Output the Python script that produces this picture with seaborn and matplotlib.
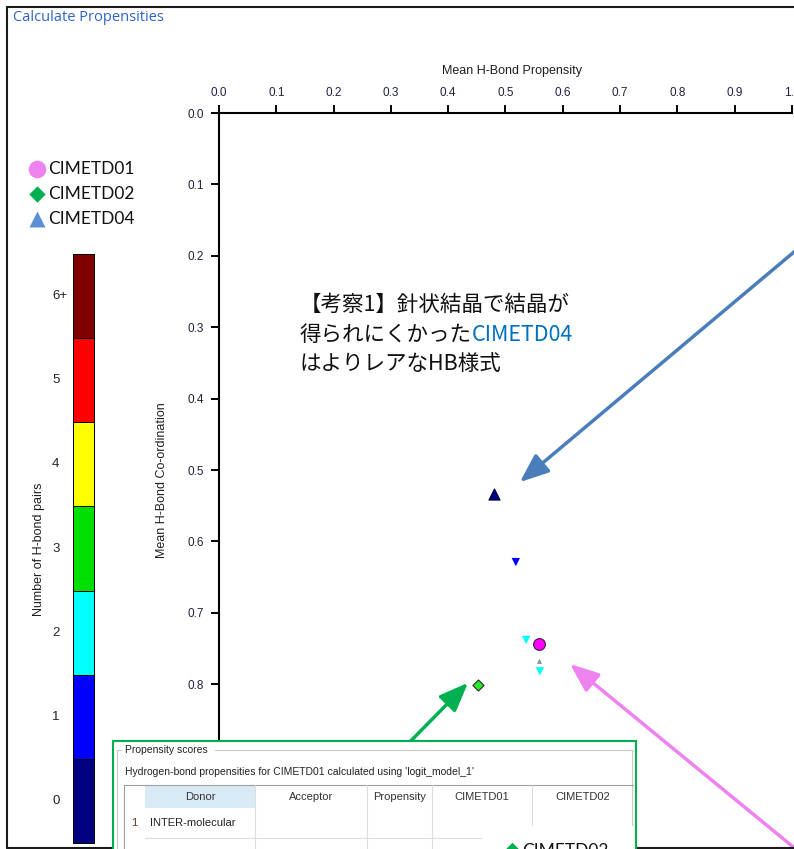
import numpy as np
import pandas as pd
import matplotlib
matplotlib.use("Agg")
import matplotlib.pyplot as plt
import seaborn as sns
from matplotlib.colors import ListedColormap
from matplotlib.patches import Rectangle

W, H = 794, 849

# number of H-bond pairs colour scale
pair_levels = [0, 1, 2, 3, 4, 5, 6]
pair_labels = ["0", "1", "2", "3", "4", "5", "6+"]
pair_colors = ["#000080", "#0000ff", "#00ffff", "#00e000", "#ffff00", "#ff0000", "#800000"]

# other possible H-bond arrangements (mean propensity / mean co-ordination)
other_propensity = [0.518, 0.536, 0.560]
other_coordination = [0.629, 0.738, 0.782]
other_pairs = [1, 2, 2]
small_propensity = [0.558]
small_coordination = [0.767]

# observed structures
structures = ["CIMETD01", "CIMETD02", "CIMETD04"]
struct_propensity = [0.558, 0.452, 0.480]
struct_coordination = [0.744, 0.801, 0.534]
struct_colors = ["#ff00ff", "#22ee22", "#000080"]
struct_markers = ["o", "D", "^"]
struct_sizes = [72, 32, 64]
legend_colors = ["#ee82ee", "#00b050", "#5b8fd6"]

x_ticks = [0.0, 0.1, 0.2, 0.3, 0.4, 0.5, 0.6, 0.7, 0.8, 0.9, 1.0]
# ticks further down sit under the inset panel
y_ticks = [0.0, 0.1, 0.2, 0.3, 0.4, 0.5, 0.6, 0.7, 0.8]

table_columns = ["", "Donor", "Acceptor", "Propensity", "CIMETD01", "CIMETD02"]
table_edges = [124, 145, 255, 367, 432, 532, 633]
row_labels = ["1"]
row_donors = ["INTER-molecular"]

note_lines = ["【考察1】針状結晶で結晶が", "得られにくかった", "はよりレアなHB様式"]
note_highlight = "CIMETD04"

sns.set_style("white")
plt.rcParams["font.family"] = ["Liberation Sans", "Noto Sans CJK JP", "DejaVu Sans"]
JP = ["Noto Sans CJK JP", "DejaVu Sans"]


def box(l, t, r, b):
    return [l / W, 1 - b / H, (r - l) / W, (b - t) / H]


fig = plt.figure(figsize=(W / 100, H / 100), dpi=100)

# main plot
ax = fig.add_axes(box(219, 113, 792, 849))
others = pd.DataFrame({"propensity": other_propensity,
                       "coordination": other_coordination,
                       "pairs": other_pairs})
sns.scatterplot(data=others, x="propensity", y="coordination", hue="pairs",
                palette={p: pair_colors[p] for p in set(other_pairs)},
                marker="v", s=36, linewidth=0, legend=False, ax=ax, zorder=3)
sns.scatterplot(x=small_propensity, y=small_coordination, marker="^", s=7,
                color="#e8a060", edgecolor="#5070b0", linewidth=0.5, ax=ax, zorder=3)
for name, px, py, c, m, s in zip(structures, struct_propensity, struct_coordination,
                                 struct_colors, struct_markers, struct_sizes):
    sns.scatterplot(x=[px], y=[py], marker=m, s=s, color=c,
                    edgecolor="#3a2040" if m != "^" else "#000040",
                    linewidth=0.8, ax=ax, zorder=4)

ax.set_xlim(0, 1.0)
ax.set_ylim(736 / 714, 0)
ax.xaxis.tick_top()
ax.set_xticks(x_ticks)
ax.set_xticklabels([f"{v:.1f}" for v in x_ticks])
ax.set_yticks(y_ticks)
ax.set_yticklabels([f"{v:.1f}" for v in y_ticks])
ax.tick_params(axis="x", top=True, bottom=False, length=5.8, width=1.4,
               pad=4, labelsize=8.5, labelcolor="#202040", color="black")
ax.tick_params(axis="y", left=True, length=5.8, width=1.4,
               pad=5, labelsize=8.5, labelcolor="#202040", color="black")
for side in ["right", "bottom"]:
    ax.spines[side].set_visible(False)
for side in ["top", "left"]:
    ax.spines[side].set_color("black")
    ax.spines[side].set_linewidth(1.5)
ax.set_xlabel("")
ax.set_ylabel("")

# arrows pointing at the structures
arrow_kw = dict(arrowstyle="-|>,head_length=0.8,head_width=0.32", lw=2.5,
                shrinkA=0, shrinkB=0, mutation_scale=22)
ax.annotate("", xy=(0.525, 0.517), xytext=(1.049, 0.164),
            arrowprops=dict(color="#4a7ebb", **arrow_kw), annotation_clip=False)
ax.annotate("", xy=(0.4346, 0.798), xytext=(0.323, 0.889),
            arrowprops=dict(color="#00b050", **arrow_kw), annotation_clip=False)
ax.annotate("", xy=(0.6126, 0.7717), xytext=(1.066, 1.070),
            arrowprops=dict(color="#ee82ee", **arrow_kw), annotation_clip=False)

# colour bar as a one-column heatmap
ax_cb = fig.add_axes(box(73, 254, 94, 843))
cb_data = pd.DataFrame({"pairs": pair_levels[::-1]}, index=pair_labels[::-1])
sns.heatmap(cb_data, cmap=ListedColormap(pair_colors), vmin=-0.5, vmax=6.5,
            cbar=False, linewidths=0.5, linecolor="black",
            xticklabels=False, yticklabels=True, ax=ax_cb)
ax_cb.set_ylabel("")
ax_cb.tick_params(axis="y", left=False, length=0, pad=15, labelsize=9.5,
                  labelcolor="#222222")
for lab in ax_cb.get_yticklabels():
    lab.set_rotation(0)
    lab.set_ha("left")
for sp in ax_cb.spines.values():
    sp.set_visible(True)
    sp.set_color("black")
    sp.set_linewidth(0.7)

# overlay in pixel coordinates for frame, labels, legend and inset panel
ov = fig.add_axes([0, 0, 1, 1], zorder=5)
ov.set_xlim(0, W)
ov.set_ylim(H, 0)
ov.axis("off")

ov.plot([7, 7], [7, 848], color="#1a1a1a", lw=1.5)
ov.plot([7, W + 5], [7, 7], color="#1a1a1a", lw=1.5)
ov.plot([7, W + 5], [848, 848], color="#1a1a1a", lw=1.5)

ov.text(13, 17, "Calculate Propensities", color="#2f62c9", fontsize=10.5,
        family="Open Sans", va="center", ha="left")
ov.text(512, 71, "Mean H-Bond Propensity", fontsize=9, color="#202020",
        ha="center", va="center")
ov.text(162, 480, "Mean H-Bond Co-ordination", fontsize=9, color="#202020",
        ha="center", va="center", rotation=90)
ov.text(39, 549, "Number of H-bond pairs", fontsize=9, color="#202020",
        ha="center", va="center", rotation=90)

# legend
for i, (name, c, m) in enumerate(zip(structures, legend_colors, struct_markers)):
    y = 169 + i * 25
    ov.scatter([37], [y], marker=m, s={"o": 160, "D": 70, "^": 132}[m],
               color=c, linewidths=0, zorder=6)
    ov.text(48, y, name, fontsize=12.5, family="Lato", color="#111111",
            va="center", ha="left")

# Japanese note
base = [311, 341, 370]
for line, yb in zip(note_lines, base):
    t = ov.text(300, yb, line, fontsize=15.5, family=JP, color="#111111",
                va="baseline", ha="left")
    if line == note_lines[1]:
        note_mid = t
fig.canvas.draw()
ext = note_mid.get_window_extent(renderer=fig.canvas.get_renderer())
x_end = ov.transData.inverted().transform((ext.x1, ext.y0))[0]
ov.text(x_end, base[1], note_highlight, fontsize=15.5, family=JP,
        color="#0070c0", va="baseline", ha="left")

# inset panel (propensity scores table)
ov.add_patch(Rectangle((113, 741), 523, 130, facecolor="white",
                       edgecolor="#00b050", lw=1.5, zorder=7))
grid = "#c8c8c8"
ov.plot([117, 121], [750, 750], color=grid, lw=0.8, zorder=8)
ov.plot([215, 632], [750, 750], color=grid, lw=0.8, zorder=8)
ov.plot([117, 117], [750, 870], color=grid, lw=0.8, zorder=8)
ov.plot([632, 632], [750, 870], color=grid, lw=0.8, zorder=8)
ov.text(125, 750, "Propensity scores", fontsize=7.5, color="#222222",
        va="center", ha="left", zorder=9)
ov.text(125, 772, "Hydrogen-bond propensities for CIMETD01 calculated using 'logit_model_1'",
        fontsize=7.5, color="#222222", va="center", ha="left", zorder=9)
ov.add_patch(Rectangle((table_edges[1], 785), table_edges[2] - table_edges[1], 23,
                       facecolor="#d9eaf7", edgecolor="none", zorder=8))
ov.plot([table_edges[0], table_edges[-1]], [785, 785], color="#a0a0a0", lw=0.8, zorder=9)
ov.plot([table_edges[0], table_edges[0]], [785, 870], color="#a0a0a0", lw=0.8, zorder=9)
for xe in table_edges[2:-1]:
    ov.plot([xe, xe], [785, 870], color="#dcdcdc", lw=0.8, zorder=9)
ov.plot([table_edges[1], table_edges[-1]], [838, 838], color="#dcdcdc", lw=0.8, zorder=9)
for col, l, r in zip(table_columns, table_edges[:-1], table_edges[1:]):
    if col:
        ov.text((l + r) / 2, 797, col, fontsize=8, color="#333333",
                ha="center", va="center", zorder=10)
for lab, donor in zip(row_labels, row_donors):
    ov.text(134, 823, lab, fontsize=8, color="#5a3a1a", ha="center", va="center", zorder=10)
    ov.text(150, 823, donor, fontsize=8, color="#222222", ha="left", va="center", zorder=10)

# partially hidden legend entry at the bottom
ov.add_patch(Rectangle((482, 826), 152, 45, facecolor="white", edgecolor="none", zorder=11))
ov.scatter([512], [851], marker="D", s=80, color=legend_colors[1], linewidths=0, zorder=12)
ov.text(522, 856, structures[1], fontsize=12.5, family="Lato", color="#111111",
        va="baseline", ha="left", zorder=12)

fig.savefig("out.png", dpi=100)
